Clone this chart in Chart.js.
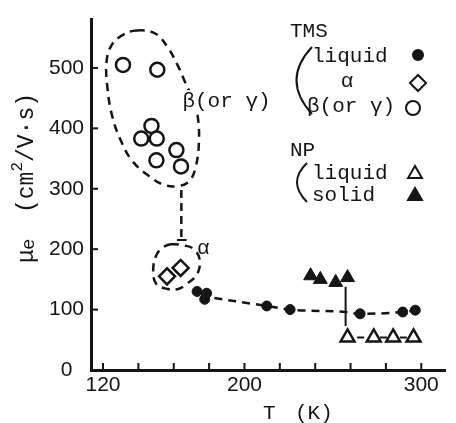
<!DOCTYPE html>
<html>
<head>
<meta charset="utf-8">
<script src="https://cdn.jsdelivr.net/npm/chart.js@4"></script>
<style>
  html, body { margin: 0; padding: 0; background: #fff; }
  #wrap { width: 456px; height: 423px; }
</style>
</head>
<body>
<div id="wrap"><canvas id="c" width="456" height="423"></canvas></div>
<script>
// Electron mobility of TMS and NP vs temperature
const xTicks = [120, 140, 160, 180, 200, 220, 240, 260, 280, 300];
const xLabeled = [120, 200, 300];
const yTicks = [0, 100, 200, 300, 400, 500];

// TMS
const tmsLiquidT = [173.2, 177.5, 178.6, 212.6, 225.8, 265.4, 289.5, 296.6];
const tmsLiquidMu = [130, 117, 127, 106, 100, 93, 96, 99];
const tmsAlphaT = [156.2, 163.9];
const tmsAlphaMu = [155, 169];
const tmsBetaT = [131.3, 150.7, 147.4, 141.6, 150.4, 150.2, 161.5, 164.1];
const tmsBetaMu = [505, 497, 404, 383, 383, 347, 364, 337];

// NP
const npLiquidT = [258.3, 273.1, 284.1, 295.6];
const npLiquidMu = [54, 54, 54, 54];
const npSolidT = [237.4, 242.9, 251.6, 258.3];
const npSolidMu = [156, 150, 145, 153];

// guide lines drawn in the figure (data units)
const liquidCurveT = [183, 212.6, 225.8, 257, 265.4, 289.5, 296.6];
const liquidCurveMu = [119, 106, 100, 96, 93, 96, 99];
const betaLoopT = [139.0, 149.5, 156.6, 162.1, 166.5, 170.9, 173.6, 174.2, 172.5, 169.2, 163.7, 154.9, 145.6, 136.3, 130.2, 125.3, 122.5, 122.0, 124.7, 130.8];
const betaLoopMu = [562, 557, 534, 505, 476, 446, 419, 375, 337, 314, 305, 306, 322, 347, 379, 419, 467, 510, 537, 554];
const alphaLoopT = [158.4, 166.0, 171.4, 174.7, 173.1, 167.6, 162.5, 156.6, 150.0, 148.4, 150.5, 154.0];
const alphaLoopMu = [208, 206, 200, 182, 158, 143, 134, 134, 143, 168, 192, 203];
const linkT = [164.3, 164.3];
const linkMu = [298, 217];
const linkBarT = [161.8, 167.3];
const linkBarMu = [215, 215];
const meltT = [257.2, 257.2];
const meltMu = [138, 73];

const INK = '#151515';
const MONO = '"Liberation Mono", "DejaVu Sans Mono", monospace';
const SANS = '"Liberation Sans", Arial, sans-serif';

const pts = (xs, ys) => xs.map((x, i) => ({ x, y: ys[i] }));

function guide(data, extra) {
    return Object.assign({
        data, showLine: true, pointRadius: 0, borderColor: INK,
        borderWidth: 2.5, borderDash: [8, 6], fill: false
    }, extra);
}

// close smoothed loops (same trick the radar chart uses)
const loopPlugin = {
    id: 'loops',
    afterDatasetUpdate(chart, args) {
        const ds = chart.data.datasets[args.index];
        if (ds.closed) {
            args.meta.dataset._loop = true;
            args.meta.dataset._fullLoop = true;
        }
    }
};

const decorPlugin = {
    id: 'decor',
    afterDraw(chart) {
        const { ctx, chartArea: a, scales: { x, y } } = chart;
        ctx.save();
        ctx.strokeStyle = INK;
        ctx.fillStyle = INK;
        ctx.lineWidth = 2;
        // inward tick marks
        xTicks.forEach(v => {
            const px = x.getPixelForValue(v);
            ctx.beginPath(); ctx.moveTo(px, a.bottom); ctx.lineTo(px, a.bottom - 7); ctx.stroke();
        });
        yTicks.slice(1).forEach(v => {
            const py = y.getPixelForValue(v);
            ctx.beginPath(); ctx.moveTo(a.left, py); ctx.lineTo(a.left + 7, py); ctx.stroke();
        });

        // notes inside the plot
        ctx.font = '21px ' + MONO;
        ctx.textBaseline = 'alphabetic';
        ctx.textAlign = 'left';
        const bx = x.getPixelForValue(164.9), by = y.getPixelForValue(435);
        const bw = ctx.measureText('β(or γ)').width;
        ctx.fillStyle = '#fff';
        ctx.fillRect(bx - 2, by - 17, bw + 4, 22);
        ctx.fillStyle = INK;
        ctx.fillText('β(or γ)', bx, by);
        ctx.fillText('α', x.getPixelForValue(173.1), y.getPixelForValue(192));

        // legend
        ctx.fillText('TMS', 290, 37);
        ctx.fillText('liquid', 312, 62);
        ctx.textAlign = 'center';
        ctx.fillText('α', 347, 87);
        ctx.textAlign = 'left';
        ctx.fillText('β(or γ)', 307, 112);
        ctx.fillText('NP', 290, 156);
        ctx.fillText('liquid', 312, 179);
        ctx.fillText('solid', 312, 201);

        ctx.lineWidth = 2;
        ctx.beginPath(); ctx.moveTo(312, 47); ctx.quadraticCurveTo(281, 80, 312, 114); ctx.stroke();
        ctx.beginPath(); ctx.moveTo(307, 163); ctx.quadraticCurveTo(287, 182, 307, 202); ctx.stroke();

        const mark = (style, px, py, r, filled) => {
            ctx.fillStyle = filled ? INK : '#fff';
            ctx.strokeStyle = INK;
            Chart.helpers.drawPoint(ctx, { pointStyle: style, radius: r, rotation: 0, borderWidth: filled ? 1 : 2.5 }, px, py);
        };
        mark('circle', 418, 55, 5, true);
        mark('rectRot', 418, 83, 8, false);
        mark('circle', 413, 108, 7, false);
        mark('triangle', 415, 174, 8, false);
        mark('triangle', 415, 196, 8, true);

        // axis titles
        ctx.fillStyle = INK;
        ctx.font = '21px ' + MONO;
        ctx.textAlign = 'left';
        ctx.fillText('T', 263, 419);
        ctx.fillText('(K)', 295, 419);

        ctx.save();
        ctx.translate(33, 263);
        ctx.rotate(-Math.PI / 2);
        ctx.font = '23px ' + MONO;
        ctx.fillText('μ', 0, 0);
        ctx.font = '19px ' + MONO;
        ctx.fillText('e', 13, 1);
        ctx.font = '23px ' + MONO;
        let u = 50;
        ctx.fillText('(cm', u, 0);
        u += ctx.measureText('(cm').width;
        ctx.font = '16px ' + MONO;
        ctx.fillText('2', u, -11);
        u += ctx.measureText('2').width;
        ctx.font = '23px ' + MONO;
        ctx.fillText('/V·s)', u, 0);
        ctx.restore();

        ctx.restore();
    }
};

new Chart(document.getElementById('c'), {
    type: 'scatter',
    data: {
        datasets: [
            { label: 'TMS liquid', data: pts(tmsLiquidT, tmsLiquidMu), pointStyle: 'circle', pointRadius: 5,
              pointBackgroundColor: INK, pointBorderColor: INK, pointBorderWidth: 1 },
            { label: 'TMS α', data: pts(tmsAlphaT, tmsAlphaMu), pointStyle: 'rectRot', pointRadius: 8,
              pointBackgroundColor: '#fff', pointBorderColor: INK, pointBorderWidth: 2.5 },
            { label: 'TMS β(or γ)', data: pts(tmsBetaT, tmsBetaMu), pointStyle: 'circle', pointRadius: 7,
              pointBackgroundColor: '#fff', pointBorderColor: INK, pointBorderWidth: 2.5 },
            { label: 'NP liquid', data: pts(npLiquidT, npLiquidMu), pointStyle: 'triangle', pointRadius: 8,
              pointBackgroundColor: '#fff', pointBorderColor: INK, pointBorderWidth: 2.5,
              showLine: true, borderColor: INK, borderWidth: 2,
              segment: { borderDash: c => { const L = c.p1.x - c.p0.x; return [0, (L - 7) / 2, 7, 300]; } } },
            { label: 'NP solid', data: pts(npSolidT, npSolidMu), pointStyle: 'triangle', pointRadius: 8,
              pointBackgroundColor: INK, pointBorderColor: INK, pointBorderWidth: 1 },
            guide(pts(liquidCurveT, liquidCurveMu), { cubicInterpolationMode: 'monotone' }),
            guide(pts(betaLoopT, betaLoopMu), { tension: 0.4, closed: true }),
            guide(pts(alphaLoopT, alphaLoopMu), { tension: 0.4, closed: true }),
            guide(pts(linkT, linkMu), { borderDash: [8, 5] }),
            guide(pts(linkBarT, linkBarMu), { borderDash: [], borderWidth: 2 }),
            guide(pts(meltT, meltMu), { borderDash: [], borderWidth: 2 })
        ]
    },
    options: {
        responsive: false,
        animation: false,
        devicePixelRatio: 1,
        layout: { padding: { top: 13, right: 0, left: 0, bottom: 0 } },
        plugins: { legend: { display: false }, tooltip: { enabled: false } },
        elements: { line: { fill: false } },
        scales: {
            x: {
                type: 'linear', min: 113.2, max: 313.7,
                afterBuildTicks: s => { s.ticks = xTicks.map(v => ({ value: v })); },
                afterFit: s => { s.height = 53; },
                grid: { display: false, drawTicks: false },
                border: { display: true, color: INK, width: 3 },
                ticks: {
                    padding: 3, color: INK, font: { family: SANS, size: 21 }, maxRotation: 0, autoSkip: false,
                    callback: v => xLabeled.includes(v) ? String(v) : ''
                }
            },
            y: {
                type: 'linear', min: 0, max: 580,
                afterBuildTicks: s => { s.ticks = yTicks.map(v => ({ value: v })); },
                afterFit: s => { s.width = 91; },
                grid: { display: false, drawTicks: false },
                border: { display: true, color: INK, width: 3 },
                ticks: {
                    padding: 7, color: INK, font: { family: SANS, size: 21 }, autoSkip: false,
                    callback: v => v === 0 ? '0\u00a0\u00a0' : String(v)
                }
            }
        }
    },
    plugins: [loopPlugin, decorPlugin]
});
</script>
</body>
</html>
